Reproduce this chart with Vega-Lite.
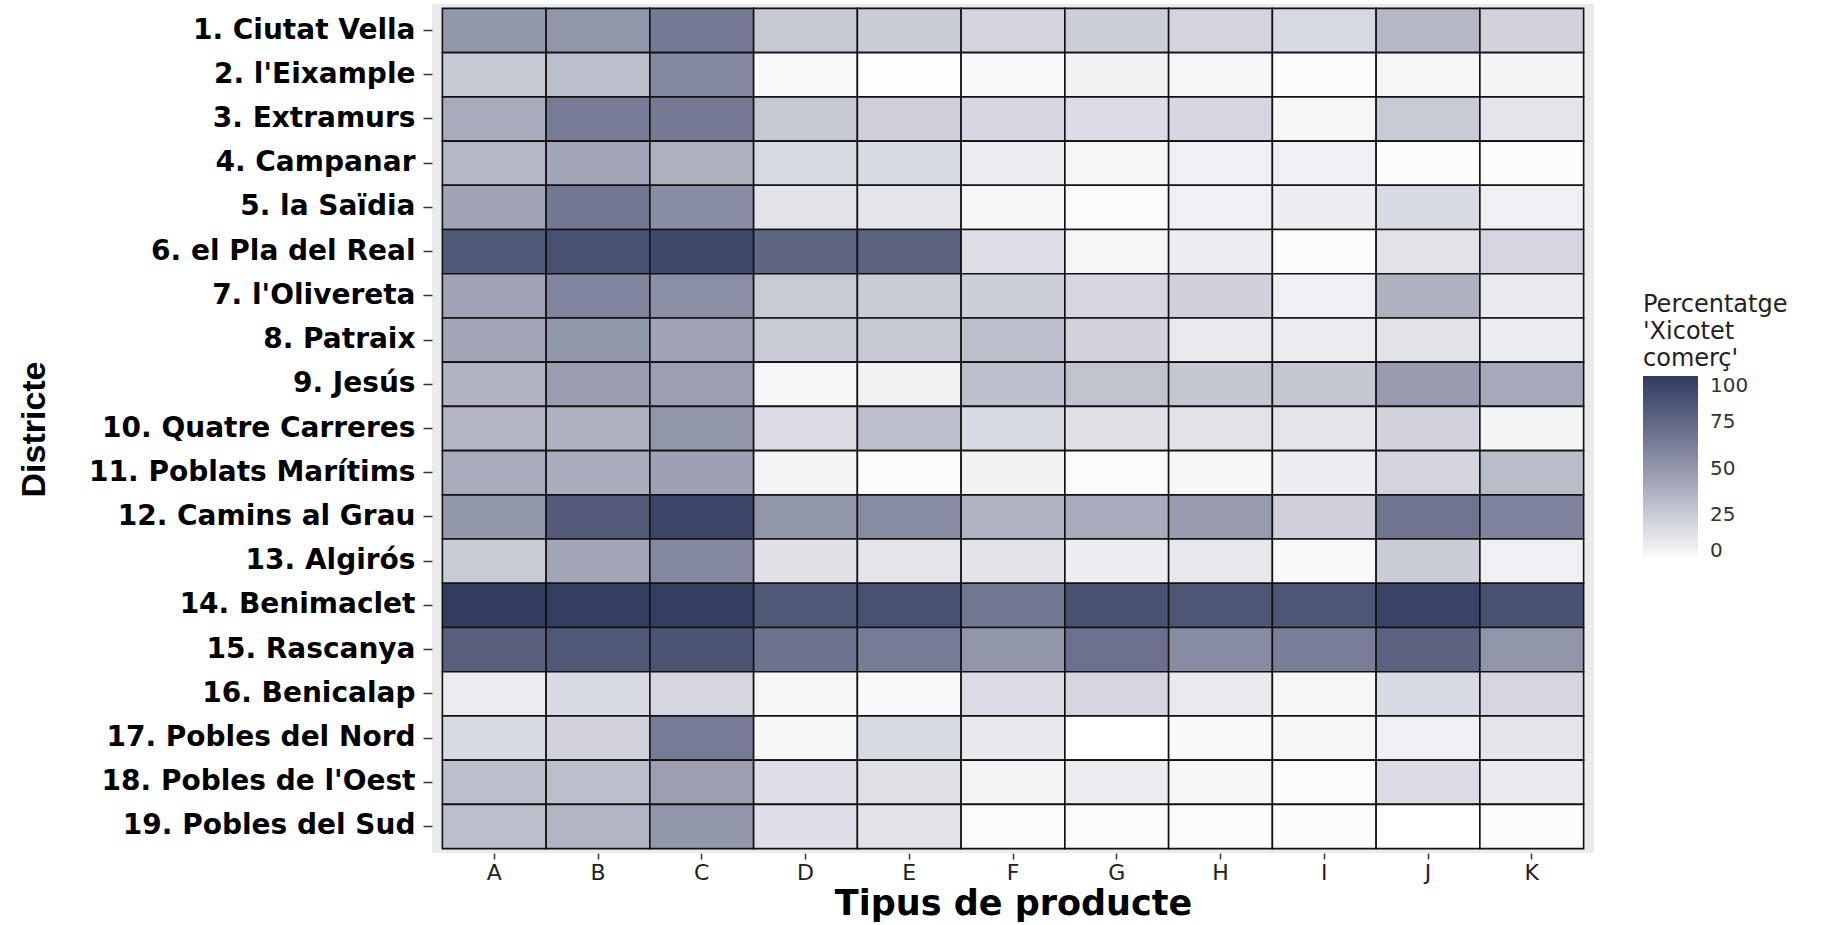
{
  "$schema": "https://vega.github.io/schema/vega-lite/v6.json",
  "width": 1162,
  "height": 849,
  "autosize": {"type": "none"},
  "padding": {"left": 432, "top": 4, "right": 238, "bottom": 72},
  "background": "white",
  "config": {
    "view": {"fill": "#EBEBEB", "stroke": null},
    "font": "DejaVu Sans"
  },
  "data": {"values": [
    {"d":"1. Ciutat Vella ","p":"A","v":50},{"d":"1. Ciutat Vella ","p":"B","v":51},{"d":"1. Ciutat Vella ","p":"C","v":65},{"d":"1. Ciutat Vella ","p":"D","v":26},{"d":"1. Ciutat Vella ","p":"E","v":24},{"d":"1. Ciutat Vella ","p":"F","v":20},{"d":"1. Ciutat Vella ","p":"G","v":23},{"d":"1. Ciutat Vella ","p":"H","v":20},{"d":"1. Ciutat Vella ","p":"I","v":18},{"d":"1. Ciutat Vella ","p":"J","v":34},{"d":"1. Ciutat Vella ","p":"K","v":21},
    {"d":"2. l'Eixample","p":"A","v":26},{"d":"2. l'Eixample","p":"B","v":31},{"d":"2. l'Eixample","p":"C","v":58},{"d":"2. l'Eixample","p":"D","v":3},{"d":"2. l'Eixample","p":"E","v":1},{"d":"2. l'Eixample","p":"F","v":3},{"d":"2. l'Eixample","p":"G","v":6},{"d":"2. l'Eixample","p":"H","v":4},{"d":"2. l'Eixample","p":"I","v":2},{"d":"2. l'Eixample","p":"J","v":4},{"d":"2. l'Eixample","p":"K","v":5},
    {"d":"3. Extramurs","p":"A","v":40},{"d":"3. Extramurs","p":"B","v":64},{"d":"3. Extramurs","p":"C","v":65},{"d":"3. Extramurs","p":"D","v":26},{"d":"3. Extramurs","p":"E","v":22},{"d":"3. Extramurs","p":"F","v":19},{"d":"3. Extramurs","p":"G","v":16},{"d":"3. Extramurs","p":"H","v":19},{"d":"3. Extramurs","p":"I","v":4},{"d":"3. Extramurs","p":"J","v":25},{"d":"3. Extramurs","p":"K","v":12},
    {"d":"4. Campanar","p":"A","v":34},{"d":"4. Campanar","p":"B","v":43},{"d":"4. Campanar","p":"C","v":37},{"d":"4. Campanar","p":"D","v":18},{"d":"4. Campanar","p":"E","v":17},{"d":"4. Campanar","p":"F","v":8},{"d":"4. Campanar","p":"G","v":4},{"d":"4. Campanar","p":"H","v":7},{"d":"4. Campanar","p":"I","v":7},{"d":"4. Campanar","p":"J","v":2},{"d":"4. Campanar","p":"K","v":2},
    {"d":"5. la Saïdia","p":"A","v":44},{"d":"5. la Saïdia","p":"B","v":66},{"d":"5. la Saïdia","p":"C","v":55},{"d":"5. la Saïdia","p":"D","v":13},{"d":"5. la Saïdia","p":"E","v":12},{"d":"5. la Saïdia","p":"F","v":4},{"d":"5. la Saïdia","p":"G","v":2},{"d":"5. la Saïdia","p":"H","v":7},{"d":"5. la Saïdia","p":"I","v":8},{"d":"5. la Saïdia","p":"J","v":17},{"d":"5. la Saïdia","p":"K","v":7},
    {"d":"6. el Pla del Real","p":"A","v":84},{"d":"6. el Pla del Real","p":"B","v":88},{"d":"6. el Pla del Real","p":"C","v":93},{"d":"6. el Pla del Real","p":"D","v":76},{"d":"6. el Pla del Real","p":"E","v":78},{"d":"6. el Pla del Real","p":"F","v":15},{"d":"6. el Pla del Real","p":"G","v":4},{"d":"6. el Pla del Real","p":"H","v":8},{"d":"6. el Pla del Real","p":"I","v":2},{"d":"6. el Pla del Real","p":"J","v":13},{"d":"6. el Pla del Real","p":"K","v":19},
    {"d":"7. l'Olivereta","p":"A","v":44},{"d":"7. l'Olivereta","p":"B","v":59},{"d":"7. l'Olivereta","p":"C","v":54},{"d":"7. l'Olivereta","p":"D","v":25},{"d":"7. l'Olivereta","p":"E","v":24},{"d":"7. l'Olivereta","p":"F","v":23},{"d":"7. l'Olivereta","p":"G","v":19},{"d":"7. l'Olivereta","p":"H","v":22},{"d":"7. l'Olivereta","p":"I","v":7},{"d":"7. l'Olivereta","p":"J","v":37},{"d":"7. l'Olivereta","p":"K","v":10},
    {"d":"8. Patraix","p":"A","v":43},{"d":"8. Patraix","p":"B","v":50},{"d":"8. Patraix","p":"C","v":44},{"d":"8. Patraix","p":"D","v":25},{"d":"8. Patraix","p":"E","v":26},{"d":"8. Patraix","p":"F","v":30},{"d":"8. Patraix","p":"G","v":21},{"d":"8. Patraix","p":"H","v":10},{"d":"8. Patraix","p":"I","v":9},{"d":"8. Patraix","p":"J","v":13},{"d":"8. Patraix","p":"K","v":9},
    {"d":"9. Jesús","p":"A","v":36},{"d":"9. Jesús","p":"B","v":47},{"d":"9. Jesús","p":"C","v":46},{"d":"9. Jesús","p":"D","v":4},{"d":"9. Jesús","p":"E","v":6},{"d":"9. Jesús","p":"F","v":30},{"d":"9. Jesús","p":"G","v":29},{"d":"9. Jesús","p":"H","v":27},{"d":"9. Jesús","p":"I","v":27},{"d":"9. Jesús","p":"J","v":48},{"d":"9. Jesús","p":"K","v":41},
    {"d":"10. Quatre Carreres","p":"A","v":35},{"d":"10. Quatre Carreres","p":"B","v":37},{"d":"10. Quatre Carreres","p":"C","v":51},{"d":"10. Quatre Carreres","p":"D","v":16},{"d":"10. Quatre Carreres","p":"E","v":30},{"d":"10. Quatre Carreres","p":"F","v":17},{"d":"10. Quatre Carreres","p":"G","v":14},{"d":"10. Quatre Carreres","p":"H","v":13},{"d":"10. Quatre Carreres","p":"I","v":12},{"d":"10. Quatre Carreres","p":"J","v":21},{"d":"10. Quatre Carreres","p":"K","v":5},
    {"d":"11. Poblats Marítims","p":"A","v":40},{"d":"11. Poblats Marítims","p":"B","v":39},{"d":"11. Poblats Marítims","p":"C","v":45},{"d":"11. Poblats Marítims","p":"D","v":5},{"d":"11. Poblats Marítims","p":"E","v":2},{"d":"11. Poblats Marítims","p":"F","v":6},{"d":"11. Poblats Marítims","p":"G","v":2},{"d":"11. Poblats Marítims","p":"H","v":4},{"d":"11. Poblats Marítims","p":"I","v":8},{"d":"11. Poblats Marítims","p":"J","v":20},{"d":"11. Poblats Marítims","p":"K","v":32},
    {"d":"12. Camins al Grau","p":"A","v":50},{"d":"12. Camins al Grau","p":"B","v":82},{"d":"12. Camins al Grau","p":"C","v":95},{"d":"12. Camins al Grau","p":"D","v":51},{"d":"12. Camins al Grau","p":"E","v":56},{"d":"12. Camins al Grau","p":"F","v":36},{"d":"12. Camins al Grau","p":"G","v":40},{"d":"12. Camins al Grau","p":"H","v":48},{"d":"12. Camins al Grau","p":"I","v":22},{"d":"12. Camins al Grau","p":"J","v":68},{"d":"12. Camins al Grau","p":"K","v":60},
    {"d":"13. Algirós","p":"A","v":25},{"d":"13. Algirós","p":"B","v":43},{"d":"13. Algirós","p":"C","v":58},{"d":"13. Algirós","p":"D","v":14},{"d":"13. Algirós","p":"E","v":12},{"d":"13. Algirós","p":"F","v":13},{"d":"13. Algirós","p":"G","v":8},{"d":"13. Algirós","p":"H","v":11},{"d":"13. Algirós","p":"I","v":3},{"d":"13. Algirós","p":"J","v":24},{"d":"13. Algirós","p":"K","v":7},
    {"d":"14. Benimaclet","p":"A","v":100},{"d":"14. Benimaclet","p":"B","v":99},{"d":"14. Benimaclet","p":"C","v":99},{"d":"14. Benimaclet","p":"D","v":84},{"d":"14. Benimaclet","p":"E","v":88},{"d":"14. Benimaclet","p":"F","v":67},{"d":"14. Benimaclet","p":"G","v":88},{"d":"14. Benimaclet","p":"H","v":85},{"d":"14. Benimaclet","p":"I","v":85},{"d":"14. Benimaclet","p":"J","v":96},{"d":"14. Benimaclet","p":"K","v":88},
    {"d":"15. Rascanya","p":"A","v":80},{"d":"15. Rascanya","p":"B","v":84},{"d":"15. Rascanya","p":"C","v":86},{"d":"15. Rascanya","p":"D","v":69},{"d":"15. Rascanya","p":"E","v":64},{"d":"15. Rascanya","p":"F","v":50},{"d":"15. Rascanya","p":"G","v":70},{"d":"15. Rascanya","p":"H","v":56},{"d":"15. Rascanya","p":"I","v":63},{"d":"15. Rascanya","p":"J","v":78},{"d":"15. Rascanya","p":"K","v":51},
    {"d":"16. Benicalap","p":"A","v":9},{"d":"16. Benicalap","p":"B","v":17},{"d":"16. Benicalap","p":"C","v":19},{"d":"16. Benicalap","p":"D","v":4},{"d":"16. Benicalap","p":"E","v":3},{"d":"16. Benicalap","p":"F","v":16},{"d":"16. Benicalap","p":"G","v":19},{"d":"16. Benicalap","p":"H","v":10},{"d":"16. Benicalap","p":"I","v":4},{"d":"16. Benicalap","p":"J","v":17},{"d":"16. Benicalap","p":"K","v":19},
    {"d":"17. Pobles del Nord","p":"A","v":18},{"d":"17. Pobles del Nord","p":"B","v":21},{"d":"17. Pobles del Nord","p":"C","v":64},{"d":"17. Pobles del Nord","p":"D","v":4},{"d":"17. Pobles del Nord","p":"E","v":18},{"d":"17. Pobles del Nord","p":"F","v":11},{"d":"17. Pobles del Nord","p":"G","v":0},{"d":"17. Pobles del Nord","p":"H","v":3},{"d":"17. Pobles del Nord","p":"I","v":4},{"d":"17. Pobles del Nord","p":"J","v":7},{"d":"17. Pobles del Nord","p":"K","v":12},
    {"d":"18. Pobles de l'Oest","p":"A","v":31},{"d":"18. Pobles de l'Oest","p":"B","v":31},{"d":"18. Pobles de l'Oest","p":"C","v":46},{"d":"18. Pobles de l'Oest","p":"D","v":15},{"d":"18. Pobles de l'Oest","p":"E","v":14},{"d":"18. Pobles de l'Oest","p":"F","v":5},{"d":"18. Pobles de l'Oest","p":"G","v":9},{"d":"18. Pobles de l'Oest","p":"H","v":4},{"d":"18. Pobles de l'Oest","p":"I","v":2},{"d":"18. Pobles de l'Oest","p":"J","v":16},{"d":"18. Pobles de l'Oest","p":"K","v":10},
    {"d":"19. Pobles del Sud","p":"A","v":31},{"d":"19. Pobles del Sud","p":"B","v":35},{"d":"19. Pobles del Sud","p":"C","v":50},{"d":"19. Pobles del Sud","p":"D","v":15},{"d":"19. Pobles del Sud","p":"E","v":13},{"d":"19. Pobles del Sud","p":"F","v":2},{"d":"19. Pobles del Sud","p":"G","v":2},{"d":"19. Pobles del Sud","p":"H","v":2},{"d":"19. Pobles del Sud","p":"I","v":2},{"d":"19. Pobles del Sud","p":"J","v":0},{"d":"19. Pobles del Sud","p":"K","v":2}
  ]},
  "mark": {"type": "rect", "stroke": "#111111", "strokeWidth": 1.6},
  "encoding": {
    "x": {
      "field": "p", "type": "nominal", "sort": null,
      "scale": {"paddingInner": 0, "paddingOuter": 0.1},
      "axis": {
        "title": "Tipus de producte",
        "titleFontSize": 35, "titleFontWeight": "bold", "titleColor": "#000000",
        "titleFont": "DejaVu Sans",
        "titleY": 61, "titleBaseline": "alphabetic",
        "labelAngle": 0, "labelFontSize": 22, "labelColor": "#222222", "labelPadding": 3,
        "tickSize": 6, "tickColor": "#333333", "tickWidth": 1.5,
        "domain": false, "grid": false
      }
    },
    "y": {
      "field": "d", "type": "nominal", "sort": null,
      "scale": {"paddingInner": 0, "paddingOuter": 0.1},
      "axis": {
        "title": "Districte",
        "titleFont": "Liberation Sans", "titleFontSize": 34, "titleFontWeight": "bold", "titleColor": "#000000",
        "titleAngle": -90, "titleX": -388, "titleY": 425, "titleAlign": "center", "titleBaseline": "alphabetic",
        "labelFontSize": 28, "labelFontWeight": "bold", "labelColor": "#000000", "labelPadding": 8, "labelLimit": 500,
        "tickSize": 9, "tickColor": "#333333", "tickWidth": 1.5,
        "domain": false, "grid": false
      }
    },
    "fill": {
      "field": "v", "type": "quantitative",
      "scale": {"domain": [0, 100], "range": ["#FFFFFF", "#313C5F"], "interpolate": "lab"},
      "legend": {
        "title": ["Percentatge", "'Xicotet", "comerç'"],
        "orient": "none", "legendX": 1211, "legendY": 289,
        "direction": "vertical", "gradientLength": 185, "gradientThickness": 55,
        "gradientStrokeWidth": 0,
        "values": [0, 25, 50, 75, 100],
        "titleFontSize": 24, "titleFontWeight": "normal", "titleColor": "#222222", "titleLineHeight": 27,
        "titlePadding": 5, "titleLimit": 400,
        "labelFontSize": 20, "labelColor": "#333333", "labelOffset": 12
      }
    }
  }
}
